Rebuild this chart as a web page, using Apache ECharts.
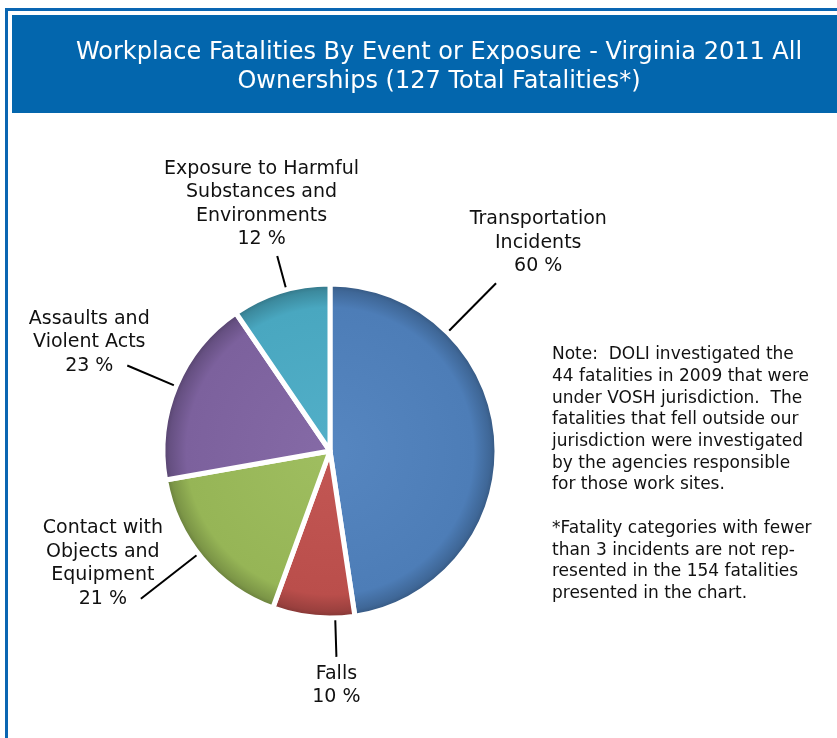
<!DOCTYPE html>
<html>
<head>
<meta charset="utf-8">
<title>Workplace Fatalities By Event or Exposure - Virginia 2011</title>
<script src="https://cdn.jsdelivr.net/npm/echarts@6/dist/echarts.min.js"></script>
<style>
  html, body { margin: 0; padding: 0; background: #fff; }
  #main { width: 837px; height: 738px; }
</style>
</head>
<body>
<div id="main"></div>
<script>
// data (counts, shown with a "%" sign in the original)
var categories = [
    'Transportation\nIncidents',
    'Falls',
    'Contact with\nObjects and\nEquipment',
    'Assaults and\nViolent Acts',
    'Exposure to Harmful\nSubstances and\nEnvironments'
];
var fatalities = [60, 10, 21, 23, 12];
var sliceColors = ['#4f81bd', '#c0504d', '#9bbb59', '#8064a2', '#4bacc6'];

var titleText = 'Workplace Fatalities By Event or Exposure - Virginia 2011 All\nOwnerships (127 Total Fatalities*)';
var noteText = [
    'Note:  DOLI investigated the',
    '44 fatalities in 2009 that were',
    'under VOSH jurisdiction.  The',
    'fatalities that fell outside our',
    'jurisdiction were investigated',
    'by the agencies responsible',
    'for those work sites.',
    '',
    '*Fatality categories with fewer',
    'than 3 incidents are not rep-',
    'resented in the 154 fatalities',
    'presented in the chart.'
];

// pie geometry and leader line style
var CX = 330, CY = 451, R = 167;
var leaderShift = [-41, -7.5, 2, 0, 2];   // degrees, where the leader leaves the slice
var leaderLength = [72, 42, 76, 56, 38];

var myChart = echarts.init(document.getElementById('main'));

function shade(hex, f) {
    var n = parseInt(hex.slice(1), 16);
    var r = (n >> 16) & 255, g = (n >> 8) & 255, b = n & 255;
    function c(v) { return Math.max(0, Math.min(255, Math.round(f > 1 ? v + (255 - v) * (f - 1) : v * f))); }
    return 'rgb(' + c(r) + ',' + c(g) + ',' + c(b) + ')';
}

var total = fatalities.reduce(function (a, b) { return a + b; }, 0);
function midAngle(i) {
    var before = 0;
    for (var k = 0; k < i; k++) before += fatalities[k];
    return (before + fatalities[i] / 2) / total * 360;
}

var pieData = categories.map(function (name, i) {
    var c = sliceColors[i];
    return {
        name: name,
        value: fatalities[i],
        itemStyle: {
            color: {
                type: 'radial', x: CX, y: CY, r: R, global: true,
                colorStops: [
                    { offset: 0, color: shade(c, 1.04) },
                    { offset: 0.86, color: shade(c, 0.97) },
                    { offset: 0.96, color: shade(c, 0.8) },
                    { offset: 1, color: shade(c, 0.66) }
                ]
            }
        }
    };
});

var option = {
    backgroundColor: '#fff',
    animation: false,
    title: {
        text: titleText,
        left: 434,
        top: 33,
        textAlign: 'center',
        textStyle: {
            color: '#fff',
            fontFamily: 'DejaVu Sans',
            fontWeight: 'normal',
            fontSize: 24,
            lineHeight: 29
        }
    },
    graphic: [
        {
            type: 'rect', z: -10,
            shape: { x: 6.5, y: 9.5, width: 900, height: 800 },
            style: { fill: null, stroke: '#0a66b2', lineWidth: 3 }
        },
        {
            type: 'rect', z: -9,
            shape: { x: 12, y: 15, width: 830, height: 98 },
            style: { fill: '#0366ad' }
        },
        {
            type: 'text',
            left: 552, top: 344,
            style: {
                text: noteText.join('\n'),
                font: '17px "DejaVu Sans"',
                lineHeight: 21.7,
                fill: '#111'
            }
        }
    ],
    series: [
        {
            name: 'Fatalities',
            type: 'pie',
            center: [CX, CY],
            radius: R,
            startAngle: 90,
            clockwise: true,
            avoidLabelOverlap: false,
            itemStyle: { borderColor: '#fff', borderWidth: 5 },
            label: {
                show: true,
                position: 'outside',
                formatter: '{b}\n{c} %',
                color: '#111',
                fontFamily: 'DejaVu Sans',
                fontSize: 19,
                lineHeight: 23.5,
                align: 'center'
            },
            labelLine: {
                show: true,
                length: 30,
                length2: 0,
                lineStyle: { color: '#000', width: 2 }
            },
            labelLayout: function (p) {
                var i = p.dataIndex;
                var a = (midAngle(i) + leaderShift[i]) * Math.PI / 180;
                var sx = Math.sin(a), sy = -Math.cos(a);
                var r0 = R - 3;
                var start = [CX + r0 * sx, CY + r0 * sy];
                var end = [start[0] + leaderLength[i] * sx, start[1] + leaderLength[i] * sy];
                var out = { labelLinePoints: [start, end, end], align: 'center' };
                if (-sy > 0.5) {
                    out.x = end[0] + 60 * sx;
                    out.y = end[1] - 5;
                    out.verticalAlign = 'bottom';
                } else if (-sy < -0.8) {
                    out.x = end[0];
                    out.y = end[1] + 5;
                    out.verticalAlign = 'top';
                } else {
                    out.x = end[0] - 38;
                    out.y = end[1] + 12;
                    out.verticalAlign = 'bottom';
                }
                return out;
            },
            data: pieData
        }
    ]
};

myChart.setOption(option);
</script>
</body>
</html>
